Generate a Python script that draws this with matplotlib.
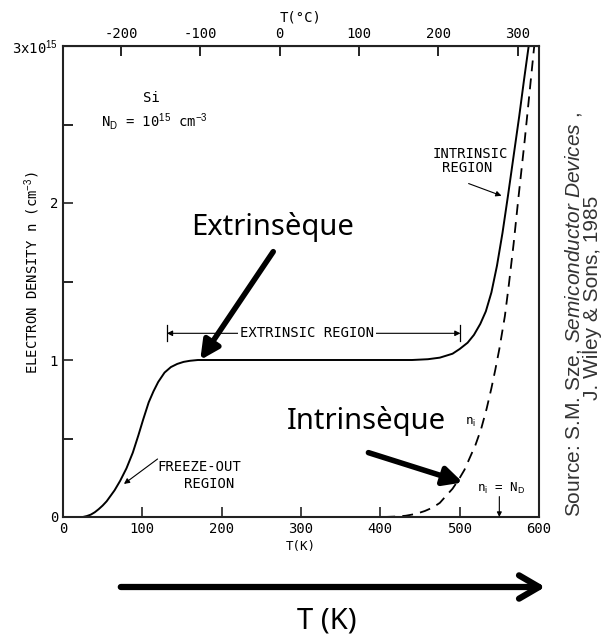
import numpy as np
import matplotlib
matplotlib.use("Agg")
import matplotlib.pyplot as plt
from matplotlib.patches import FancyArrowPatch

plt.rcParams['font.family'] = ['DejaVu Sans Mono']
plt.rcParams['axes.unicode_minus'] = False
plt.rcParams['mathtext.fontset'] = 'custom'
plt.rcParams['mathtext.rm'] = 'Liberation Sans'
plt.rcParams['mathtext.it'] = 'Liberation Sans:italic'

# electron density n (units of 1e15 cm^-3) vs T (K)
T_n = [25, 30, 35, 40, 45, 50, 55, 60, 65, 72, 80, 88, 95, 101, 108, 114,
       120, 128, 136, 144, 152, 160, 170, 200, 300, 400, 440, 460, 475, 491,
       500, 510, 518, 526, 533, 540, 547, 554, 561, 568, 575, 581, 587]
n = [0, 0.006, 0.015, 0.03, 0.05, 0.073, 0.10, 0.135, 0.17, 0.23, 0.31, 0.41,
     0.52, 0.62, 0.73, 0.80, 0.86, 0.92, 0.955, 0.975, 0.988, 0.995, 1.0, 1.0,
     1.0, 1.0, 1.0, 1.005, 1.015, 1.04, 1.07, 1.11, 1.16, 1.23, 1.31, 1.43,
     1.6, 1.81, 2.05, 2.3, 2.55, 2.78, 3.0]

# intrinsic carrier density n_i
T_ni = [405, 420, 432, 445, 456, 466, 475, 482, 491, 499, 506, 513, 520, 527,
        534, 540, 545, 550, 557, 562, 568, 574, 582, 588, 594]
ni = [0, 0.003, 0.008, 0.02, 0.038, 0.06, 0.09, 0.13, 0.18, 0.24, 0.3, 0.38,
      0.46, 0.56, 0.69, 0.82, 0.94, 1.07, 1.28, 1.48, 1.74, 2.03, 2.4, 2.7, 3.0]

xticks = [0, 100, 200, 300, 400, 500, 600]
cticks = [-200, -100, 0, 100, 200, 300]
yticks = [0, 1, 2, 3]
ylabels = ['0', '1', '2', '3x10$^{15}$']

fig = plt.figure(figsize=(6.08, 6.41), dpi=100)
ax = fig.add_axes([63/608, 1-517/641, 476/608, 471/641])

ax.plot(T_n, n, color='black', lw=1.4)
ax.plot(T_ni, ni, color='black', lw=1.3, dashes=(6, 4))

ax.set_xlim(0, 600)
ax.set_ylim(0, 3)
ax.set_xticks(xticks)
ax.set_yticks(yticks)
ax.set_yticklabels(ylabels)
ax.set_yticks([0.5, 1.5, 2.5], minor=True)
ax.tick_params(direction='in', length=7, width=1.2, labelsize=10, color='#222')
ax.tick_params(which='minor', direction='in', length=7, width=1.2)
for s in ax.spines.values():
    s.set_linewidth(1.5)
    s.set_color('#222')

ax.set_xlabel('T(K)', fontsize=9, labelpad=3)
ax.set_ylabel('ELECTRON DENSITY n (cm$^{-3}$)', fontsize=10)
ax.yaxis.set_label_coords(-0.045, 0.518)

top = ax.secondary_xaxis('top', functions=(lambda k: k - 273, lambda c: c + 273))
top.set_xticks(cticks)
top.tick_params(direction='in', length=7, width=1.2, labelsize=10)
top.set_xlabel('T(°C)', fontsize=10, labelpad=4)

# labels inside the chart
ax.text(112, 2.67, 'Si', fontsize=10, ha='center', va='center')
ax.text(48, 2.52, 'N$_\\mathrm{D}$ = 10$^{15}$ cm$^{-3}$', fontsize=10,
        ha='left', va='center')

ax.text(513, 2.31, 'INTRINSIC', fontsize=10, ha='center', va='center')
ax.text(510, 2.22, 'REGION', fontsize=10, ha='center', va='center')
ax.annotate('', xy=(556, 2.04), xytext=(508, 2.13),
            arrowprops=dict(arrowstyle='-|>', lw=0.8, color='black', mutation_scale=8))

ax.text(172, 0.32, 'FREEZE-OUT', fontsize=10, ha='center', va='center')
ax.text(184, 0.21, 'REGION', fontsize=10, ha='center', va='center')
ax.annotate('', xy=(74, 0.2), xytext=(122, 0.38),
            arrowprops=dict(arrowstyle='-|>', lw=0.8, color='black', mutation_scale=8))

# extrinsic region span
ax.annotate('', xy=(131, 1.17), xytext=(501, 1.17),
            arrowprops=dict(arrowstyle='<|-|>', lw=0.8, color='black',
                            mutation_scale=8, shrinkA=0, shrinkB=0))
ax.plot([131, 131], [1.12, 1.22], color='black', lw=0.9)
ax.plot([501, 501], [1.12, 1.22], color='black', lw=0.9)
ax.text(308, 1.17, 'EXTRINSIC REGION', fontsize=10, ha='center', va='center',
        bbox=dict(facecolor='white', edgecolor='none', pad=1.5))

ax.text(514, 0.6, 'n$_\\mathrm{i}$', fontsize=9, ha='center', va='center')
ax.text(552, 0.185, 'n$_\\mathrm{i}$ = N$_\\mathrm{D}$', fontsize=9,
        ha='center', va='center')
ax.annotate('', xy=(550, 0.0), xytext=(550, 0.13),
            arrowprops=dict(arrowstyle='-|>', lw=0.8, color='black',
                            mutation_scale=7, shrinkA=0, shrinkB=0))

# French overlay annotations
ax.text(264, 1.85, 'Extrinsèque', fontsize=21, family='Noto Sans',
        ha='center', va='center', color='black')
ax.annotate('', xy=(173, 1.0), xytext=(265, 1.69),
            arrowprops=dict(arrowstyle='-|>', lw=4, color='black',
                            mutation_scale=28, shrinkA=0, shrinkB=0))
ax.text(383, 0.61, 'Intrinsèque', fontsize=21, family='Noto Sans',
        ha='center', va='center', color='black')
ax.annotate('', xy=(504, 0.22), xytext=(385, 0.41),
            arrowprops=dict(arrowstyle='-|>', lw=4, color='black',
                            mutation_scale=28, shrinkA=0, shrinkB=0))

# source note on the right
fig.text(573/608, 1-315/641, 'Source: S.M. Sze, $\\it{Semiconductor\\ Devices}$ ,',
         rotation=90, fontsize=15, family='Liberation Sans', color='#333',
         ha='center', va='center')
fig.text(592/608, 1-298/641, 'J. Wiley & Sons, 1985',
         rotation=90, fontsize=15, family='Liberation Sans', color='#333',
         ha='center', va='center')

# big temperature arrow below the chart
fig.add_artist(FancyArrowPatch(
    (118/608, 1-587/641), (548/608, 1-587/641), transform=fig.transFigure,
    arrowstyle='->,head_length=1.2,head_width=0.7', lw=4.5, color='black',
    mutation_scale=12))
fig.text(327/608, 1-621/641, 'T (K)', fontsize=21, family='Noto Sans',
         ha='center', va='center', color='black')

fig.savefig('out.png', dpi=100, facecolor='white')
